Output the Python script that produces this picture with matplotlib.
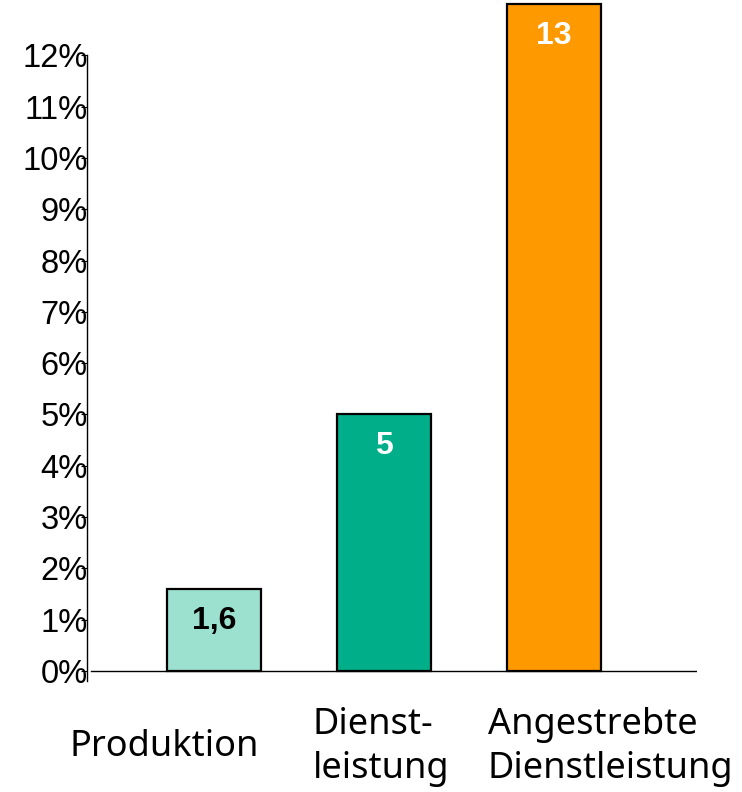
import matplotlib
matplotlib.use("Agg")
import matplotlib.pyplot as plt

categories = ["Produktion", "Dienst-\nleistung", "Angestrebte\nDienstleistung"]
values = [1.6, 5, 13]
value_labels = ["1,6", "5", "13"]
bar_colors = ["#9CE0D0", "#00AE8A", "#FF9900"]
label_colors = ["black", "white", "white"]
yticks = list(range(0, 13))
ytick_labels = [f"{t}%" for t in yticks]

fig = plt.figure(figsize=(7.42, 7.92), dpi=100)
ax = fig.add_axes([87 / 742, (792 - 681) / 792, (697 - 87) / 742, 681 / 792])

x = list(range(len(categories)))
ax.bar(x, values, width=0.55, color=bar_colors, edgecolor="black", linewidth=1.6, zorder=3)

ax.set_xlim(-0.747, 2.841)
ax.set_ylim(-0.195, 13.08)

for s in ["top", "right", "bottom"]:
    ax.spines[s].set_visible(False)
ax.spines["left"].set_bounds(-0.195, 12)
ax.spines["left"].set_linewidth(1.0)
ax.axhline(0, xmin=0.006, xmax=1.0, color="black", linewidth=1.0, zorder=2)

ax.set_xticks([])
ax.set_yticks(yticks)
ax.set_yticklabels(ytick_labels, fontfamily="Liberation Sans", fontsize=23.5)
ax.tick_params(axis="y", direction="out", length=4.5, width=0.8, pad=-4.8)

for xi, v, lab, c in zip(x, values, value_labels, label_colors):
    ax.text(xi, v - 0.62, lab, ha="center", va="center", color=c,
            fontfamily="Liberation Sans", fontweight="bold", fontsize=23, zorder=4)

label_dx = [-0.847, -0.421, -0.391]
for xi, cat, dx in zip(x, categories, label_dx):
    ax.text(xi + dx, -1.48, cat, ha="left", va="center", fontfamily="Noto Sans",
            fontsize=26, linespacing=1.3, clip_on=False)

fig.savefig("out.png", dpi=100)
